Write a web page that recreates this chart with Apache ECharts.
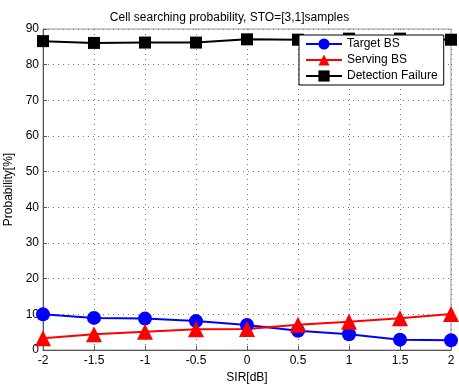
<!DOCTYPE html>
<html>
<head>
<meta charset="utf-8">
<script src="https://cdn.jsdelivr.net/npm/echarts@6/dist/echarts.min.js"></script>
<style>
  html, body { margin: 0; padding: 0; background: #fff; }
  #chart { width: 459px; height: 385px; }
</style>
</head>
<body>
<div id="chart"></div>
<script>
// SIR values on the x axis
const sir = [-2, -1.5, -1, -0.5, 0, 0.5, 1, 1.5, 2]
// probability in percent
const targetBS = [10.0, 9.0, 8.8, 8.1, 7.0, 5.4, 4.4, 2.9, 2.7]
const servingBS = [3.3, 4.4, 5.1, 5.8, 5.9, 7.1, 7.9, 8.9, 10.1]
const detectionFailure = [86.6, 86.1, 86.2, 86.2, 87.1, 87.0, 87.3, 87.3, 87.0]

const font = 'Liberation Sans, Arial, sans-serif'

function pairs(ys) {
    return sir.map((x, i) => [x, ys[i]])
}

let chart = echarts.init(document.getElementById('chart'))
chart.setOption({
    backgroundColor: '#fff',
    animation: false,
    textStyle: { fontFamily: font },
    title: {
        text: 'Cell searching probability, STO=[3,1]samples',
        left: 'center',
        top: 7,
        textStyle: { fontSize: 12, fontWeight: 'normal', color: '#000', fontFamily: font }
    },
    grid: {
        left: 43, right: 8, top: 29, bottom: 35,
        outerBoundsMode: 'none',
        containLabel: false,
        show: true,
        borderColor: '#999',
        borderWidth: 1
    },
    legend: {
        orient: 'vertical',
        left: 299,
        top: 35,
        itemWidth: 36,
        itemHeight: 14,
        itemGap: 4,
        padding: [3, 6, 3, 6],
        backgroundColor: '#fff',
        borderColor: '#000',
        borderWidth: 1,
        textStyle: { fontSize: 12, color: '#000', fontFamily: font },
        data: ['Target BS', 'Serving BS', 'Detection Failure']
    },
    xAxis: {
        type: 'value',
        min: -2,
        max: 2,
        interval: 0.5,
        name: 'SIR[dB]',
        nameLocation: 'middle',
        nameGap: 21,
        nameTextStyle: { fontSize: 12, color: '#000', fontFamily: font },
        axisLine: { onZero: false, lineStyle: { color: '#555' } },
        axisTick: { inside: true, length: 4, lineStyle: { color: '#555' } },
        axisLabel: { fontSize: 12, color: '#000', margin: 5 },
        splitLine: { show: true, lineStyle: { color: '#777', type: [1, 4], width: 1 } }
    },
    yAxis: {
        type: 'value',
        min: 0,
        max: 90,
        interval: 10,
        name: 'Probability[%]',
        nameLocation: 'middle',
        nameGap: 23,
        nameTextStyle: { fontSize: 12, color: '#000', fontFamily: font },
        axisLine: { show: true, onZero: false, lineStyle: { color: '#555' } },
        axisTick: { show: true, inside: true, length: 4, lineStyle: { color: '#555' } },
        axisLabel: { fontSize: 12, color: '#000', margin: 4 },
        splitLine: { show: true, lineStyle: { color: '#777', type: [1, 4], width: 1 } }
    },
    series: [
        {
            name: 'Target BS',
            type: 'line',
            data: pairs(targetBS),
            symbol: 'circle',
            symbolSize: 14,
            lineStyle: { color: '#0000ff', width: 2 },
            itemStyle: { color: '#0000ff' }
        },
        {
            name: 'Serving BS',
            type: 'line',
            data: pairs(servingBS),
            symbol: 'triangle',
            symbolSize: 16,
            lineStyle: { color: '#ff0000', width: 2 },
            itemStyle: { color: '#ff0000' }
        },
        {
            name: 'Detection Failure',
            type: 'line',
            data: pairs(detectionFailure),
            symbol: 'rect',
            symbolSize: 12,
            lineStyle: { color: '#000', width: 2 },
            itemStyle: { color: '#000' }
        }
    ]
})
</script>
</body>
</html>
